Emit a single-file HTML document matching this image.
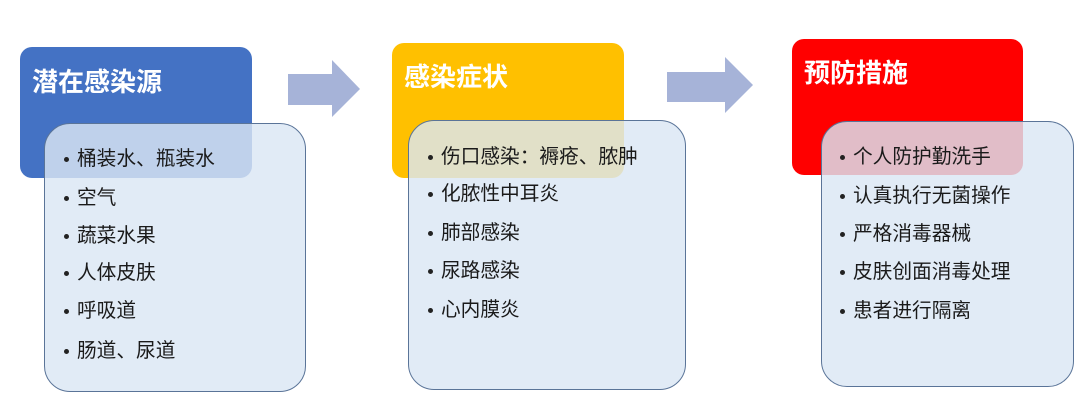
<!DOCTYPE html>
<html><head><meta charset="utf-8"><style>
body{margin:0;width:1080px;height:402px;background:#fff;position:relative;overflow:hidden;font-family:"Liberation Sans","Noto Sans CJK SC",sans-serif;}
.h{position:absolute;border-radius:12px;}
.t{position:absolute;color:#fff;font-weight:bold;font-size:26px;line-height:30px;white-space:nowrap;}
.c{position:absolute;border:1.5px solid #5a7498;border-radius:26px;background:rgba(218,230,244,0.82);box-sizing:border-box;}
.i{position:absolute;font-size:19.7px;line-height:24px;color:#1a1a1a;white-space:nowrap;}
.i:before{content:"";position:absolute;left:-13px;top:10px;width:5px;height:5px;border-radius:50%;background:#222;}
</style></head><body>
<div class="h" style="left:20px;top:47px;width:232px;height:131px;background:#4472c4"></div>
<div class="t" style="left:32px;top:67px">潜在感染源</div>
<div class="h" style="left:392px;top:43px;width:232px;height:135px;background:#ffc000"></div>
<div class="t" style="left:404px;top:62px">感染症状</div>
<div class="h" style="left:792px;top:39px;width:231px;height:136px;background:#ff0000"></div>
<div class="t" style="left:804px;top:58px">预防措施</div>

<svg style="position:absolute;left:0;top:0" width="1080" height="402">
<polygon points="288,74 332,74 332,60 360,89 332,117 332,105 288,105" fill="#a6b3d8"/>
<polygon points="667,72 725,72 725,57 753,85 725,113 725,102 667,102" fill="#a6b3d8"/>
</svg>

<div class="c" style="left:44px;top:123px;width:262px;height:269px"></div>
<div class="c" style="left:408px;top:120px;width:278px;height:270px"></div>
<div class="c" style="left:821px;top:121px;width:253px;height:266px"></div>

<div class="i" style="left:77px;top:147px">桶装水、瓶装水</div>
<div class="i" style="left:77px;top:186px">空气</div>
<div class="i" style="left:77px;top:224px">蔬菜水果</div>
<div class="i" style="left:77px;top:261px">人体皮肤</div>
<div class="i" style="left:77px;top:299px">呼吸道</div>
<div class="i" style="left:77px;top:339px">肠道、尿道</div>

<div class="i" style="left:441px;top:145px">伤口感染：褥疮、脓肿</div>
<div class="i" style="left:441px;top:182px">化脓性中耳炎</div>
<div class="i" style="left:441px;top:221px">肺部感染</div>
<div class="i" style="left:441px;top:259px">尿路感染</div>
<div class="i" style="left:441px;top:298px">心内膜炎</div>

<div class="i" style="left:853px;top:145px">个人防护勤洗手</div>
<div class="i" style="left:853px;top:184px">认真执行无菌操作</div>
<div class="i" style="left:853px;top:222px">严格消毒器械</div>
<div class="i" style="left:853px;top:260px">皮肤创面消毒处理</div>
<div class="i" style="left:853px;top:299px">患者进行隔离</div>
</body></html>
